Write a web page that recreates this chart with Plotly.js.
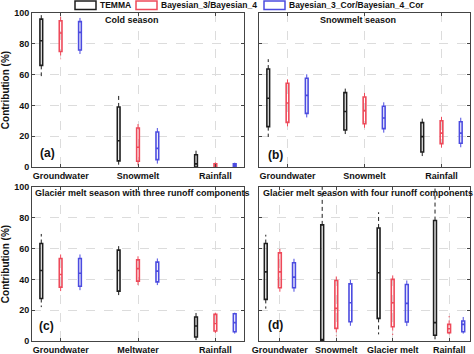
<!DOCTYPE html>
<html><head><meta charset="utf-8">
<script src="https://cdn.plot.ly/plotly-3.0.1.min.js"></script>
<style>html,body{margin:0;padding:0;background:#fff}#chart{width:474px;height:354px}</style>
</head><body><div id="chart"></div>
<script>
// Categories per panel
const catsCold = ['Groundwater','Snowmelt','Rainfall'];
const catsSnow = ['Groundwater','Snowmelt','Rainfall'];
const catsGl3 = ['Groundwater','Meltwater','Rainfall'];
const catsGl4 = ['Groundwater','Snowmelt','Glacier melt','Rainfall'];
const seriesNames = ['TEMMA','Bayesian_3/Bayesian_4','Bayesian_3_Cor/Bayesian_4_Cor'];
// Box stats per category: [lower whisker, q1, median, q3, upper whisker] (%)
const coldTEMMA = [[59,66,82,96,100],[1.5,4,17,39,46.5],[0,0,2,8,11]];
const coldBay   = [[70,75,87,95,98],[0.9,3.7,12.8,25.3,29.4],[0,0.4,1.2,2,3]];
const coldCor   = [[73,76,87.4,94.4,96.8],[2,4.8,12.1,22.7,26.8],[0,0.5,1.3,2,2.8]];
const snowTEMMA = [[19.5,26.2,44.6,63.6,70],[19.5,24,36,48.3,52.8],[6.9,9.7,19.7,28.8,32.5]];
const snowBay   = [[24.7,29,41.6,54.3,58.4],[25.5,28.1,36.6,45.5,48.5],[12.6,15.2,22,30,32.9]];
const snowCor   = [[31.2,34.8,46.5,57.6,62],[22,24.9,31.8,39.4,42.4],[12.8,15.4,22,29.4,32.3]];
const gl3TEMMA = [[22,27.6,45.8,63.3,69.5],[28.5,32.4,45.8,59,63.5],[0.6,2.6,9.7,15.6,18.4]];
const gl3Bay   = [[32.4,35,43.2,53.6,57.2],[36.3,38.9,47,52.7,55],[5.2,6.5,11.4,17.3,18.4]];
const gl3Cor   = [[32.8,35.6,44,53.6,56.8],[36.3,38.4,45.4,51.2,53.6],[4.8,6,11.9,17.7,18.4]];
const gl4TEMMA = [[21,27,44.9,63.3,69],[0,0,1,75.4,104],[4.3,14.7,44.3,73.4,83.6],[0,3.7,11.9,78.2,104]];
const gl4Bay   = [[30.7,34.6,44.9,57.2,61.6],[3.2,8.2,21.2,39.3,43.2],[3.9,9.3,24.8,40,43.6],[4.3,5.4,8,10.8,16.2]];
const gl4Cor   = [[30.7,34.6,41.5,50.8,54.4],[8.2,12.5,24.8,37.1,41.5],[8.6,12.3,24.4,36.7,41],[4.8,6,10.8,13,16.8]];

const colors = ['#1e1e1e','#ee4a5a','#4c4ce0'];
const offsets = [-0.25, 0, 0.25];
const FONT = 'Liberation Sans, Arial, sans-serif';
const W = 474, H = 354;
const X = px => px / W, Y = py => 1 - py / H;

const panels = [
  {cats: catsCold, data: [coldTEMMA, coldBay, coldCor], xa: 'x', ya: 'y', bw: 0.035},
  {cats: catsSnow, data: [snowTEMMA, snowBay, snowCor], xa: 'x2', ya: 'y2', bw: 0.035},
  {cats: catsGl3, data: [gl3TEMMA, gl3Bay, gl3Cor], xa: 'x3', ya: 'y3', bw: 0.035},
  {cats: catsGl4, data: [gl4TEMMA, gl4Bay, gl4Cor], xa: 'x4', ya: 'y4', bw: 0.05}
];

const traces = [];
panels.forEach(p => {
  p.data.forEach((st, s) => {
    const xs = p.cats.map((_, i) => i + 1 + offsets[s]);
    const wx = [], wy = [];
    st.forEach((d, i) => {
      wx.push(xs[i], xs[i], null, xs[i], xs[i], null);
      wy.push(d[3], d[4], null, d[1], d[0], null);
    });
    traces.push({type: 'scatter', mode: 'lines', x: wx, y: wy, xaxis: p.xa, yaxis: p.ya,
      line: {color: colors[s], width: 1, dash: '4px,3px'}, showlegend: false, hoverinfo: 'skip', cliponaxis: false});
    traces.push({type: 'box', name: seriesNames[s], x: xs,
      q1: st.map(d => d[1]), median: st.map(d => d[2]), q3: st.map(d => d[3]),
      lowerfence: st.map(d => d[1]), upperfence: st.map(d => d[3]),
      xaxis: p.xa, yaxis: p.ya, width: p.bw, whiskerwidth: 0, boxpoints: false,
      line: {color: colors[s], width: 1.6}, fillcolor: 'rgba(0,0,0,0)', showlegend: false, hoverinfo: 'skip'});
  });
});

const xBase = (cats, dom, anchor) => ({
  domain: dom, anchor: anchor, range: [0.63, cats.length + 0.37],
  tickvals: cats.map((_, i) => i + 1), ticktext: cats,
  tickfont: {family: FONT, size: 9, color: '#111', weight: 'bold'},
  ticks: 'inside', ticklen: 3, tickcolor: '#444',
  showline: true, mirror: 'ticks', linecolor: '#444', linewidth: 1,
  showgrid: true, gridcolor: '#dcdcdc', griddash: 'dash', zeroline: false, automargin: false
});
const yBase = (dom, anchor, labels) => ({
  domain: dom, anchor: anchor, range: [0, 100], tickvals: [0,20,40,60,80,100],
  showticklabels: labels,
  tickfont: {family: FONT, size: 9, color: '#111', weight: 'bold'},
  ticks: 'inside', ticklen: 3, tickcolor: '#444',
  showline: true, mirror: 'ticks', linecolor: '#444', linewidth: 1,
  showgrid: true, gridcolor: '#dcdcdc', griddash: 'dash', zeroline: false, automargin: false,
  title: labels ? {text: 'Contribution (%)', font: {family: FONT, size: 10, color: '#111', weight: 'bold'}, standoff: 5} : {text: ''}
});

const xL = [X(32), X(244)], xR = [X(259), X(470)];
const yT = [Y(167), Y(13)], yB = [Y(341), Y(187)];

const ann = (text, x, y, size) => ({text: text, x: X(x), y: Y(y), xref: 'paper', yref: 'paper',
  xanchor: 'left', yanchor: 'middle', showarrow: false,
  font: {family: FONT, size: size, color: '#111', weight: 'bold'}});

const layout = {
  width: W, height: H, margin: {l: 0, r: 0, t: 0, b: 0},
  paper_bgcolor: '#fff', plot_bgcolor: '#fff', showlegend: false,
  xaxis: xBase(catsCold, xL, 'y'), yaxis: yBase(yT, 'x', true),
  xaxis2: xBase(catsSnow, xR, 'y2'), yaxis2: yBase(yT, 'x2', false),
  xaxis3: xBase(catsGl3, xL, 'y3'), yaxis3: yBase(yB, 'x3', true),
  xaxis4: xBase(catsGl4, xR, 'y4'), yaxis4: yBase(yB, 'x4', false),
  annotations: [
    ann('Cold season', 103, 20, 9),
    ann('Snowmelt season', 318, 20, 9),
    ann('Glacier melt season with three runoff components', 33, 193, 9),
    ann('Glacier melt season with four runoff components', 261, 193, 9),
    ann('(a)', 38, 153, 12), ann('(b)', 266, 155, 12),
    ann('(c)', 37, 326, 12), ann('(d)', 266, 325, 12),
    ann(seriesNames[0], 98, 5, 8.5), ann(seriesNames[1], 159, 5, 8.5), ann(seriesNames[2], 287, 5, 8.5)
  ],
  shapes: [
    {type: 'rect', xref: 'paper', yref: 'paper', x0: X(75), x1: X(96), y0: Y(9.5), y1: Y(1), line: {color: colors[0], width: 1.5}},
    {type: 'rect', xref: 'paper', yref: 'paper', x0: X(136), x1: X(157), y0: Y(9.5), y1: Y(1), line: {color: colors[1], width: 1.5}},
    {type: 'rect', xref: 'paper', yref: 'paper', x0: X(264), x1: X(285), y0: Y(9.5), y1: Y(1), line: {color: colors[2], width: 1.5}}
  ]
};

Plotly.newPlot('chart', traces, layout, {staticPlot: true, displayModeBar: false});
</script>
</body></html>
